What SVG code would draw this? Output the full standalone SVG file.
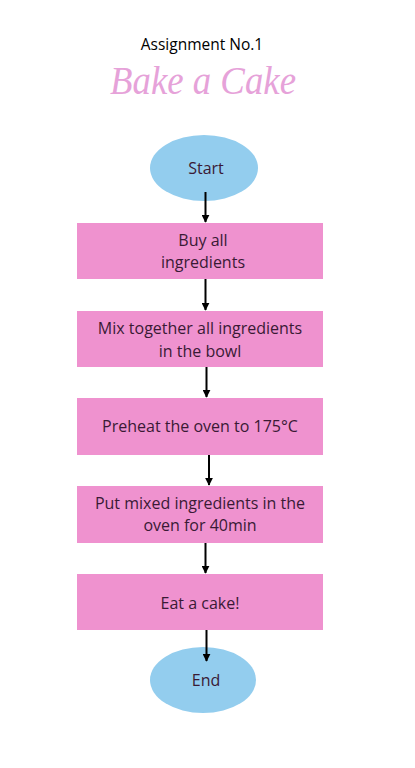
<svg xmlns="http://www.w3.org/2000/svg" width="415" height="768" viewBox="0 0 415 768">
<defs>
<marker id="ah" viewBox="0 0 10 10" refX="9" refY="5" markerWidth="4" markerHeight="4" orient="auto" markerUnits="strokeWidth">
<path d="M0,0 L10,5 L0,10 z" fill="#000"/>
</marker>
<style>
.box{fill:#ef92cf}
.ell{fill:#93cdee}
.t{font-family:"Open Sans","Liberation Sans",sans-serif;font-size:16px;fill:#3a1a35;text-anchor:middle;dominant-baseline:central}
.c{stroke:#000;stroke-width:2;fill:none;marker-end:url(#ah)}
</style>
</defs>
<rect width="415" height="768" fill="#fff"/>
<g id="title">
<text x="202" y="44" font-family="'Open Sans','Liberation Sans',sans-serif" font-size="15.5" fill="#000" text-anchor="middle" dominant-baseline="central">Assignment No.1</text>
<text x="203" y="80" font-family="'Liberation Serif',serif" font-style="italic" font-size="40" fill="#e6a2d9" text-anchor="middle" dominant-baseline="central" textLength="186" lengthAdjust="spacingAndGlyphs">Bake a Cake</text>
</g>
<g id="start">
<ellipse class="ell" cx="204" cy="168" rx="54" ry="33"/>
<text class="t" x="206" y="168">Start</text>
</g>
<g id="buy">
<rect class="box" x="77" y="223" width="246" height="56"/>
<text class="t" x="203" y="240">Buy all</text>
<text class="t" x="203" y="262">ingredients</text>
</g>
<g id="mix">
<rect class="box" x="77" y="311" width="246" height="56"/>
<text class="t" x="200" y="328">Mix together all ingredients</text>
<text class="t" x="200" y="351">in the bowl</text>
</g>
<g id="preheat">
<rect class="box" x="77" y="398" width="246" height="57"/>
<text class="t" x="200" y="426">Preheat the oven to 175°C</text>
</g>
<g id="put">
<rect class="box" x="77" y="486" width="246" height="57"/>
<text class="t" x="200" y="503">Put mixed ingredients in the</text>
<text class="t" x="200" y="525">oven for 40min</text>
</g>
<g id="eat">
<rect class="box" x="77" y="574" width="246" height="56"/>
<text class="t" x="200" y="603">Eat a cake!</text>
</g>
<g id="end">
<ellipse class="ell" cx="203" cy="680" rx="53" ry="33"/>
<text class="t" x="206" y="680">End</text>
</g>
<g id="connectors">
<line class="c" x1="205.5" y1="192" x2="205.5" y2="222"/>
<line class="c" x1="205.5" y1="279" x2="205.5" y2="310"/>
<line class="c" x1="206.5" y1="367" x2="206.5" y2="397"/>
<line class="c" x1="209" y1="455" x2="209" y2="485"/>
<line class="c" x1="205.5" y1="543" x2="205.5" y2="573"/>
<line class="c" x1="206.5" y1="630" x2="206.5" y2="661"/>
</g>
</svg>
